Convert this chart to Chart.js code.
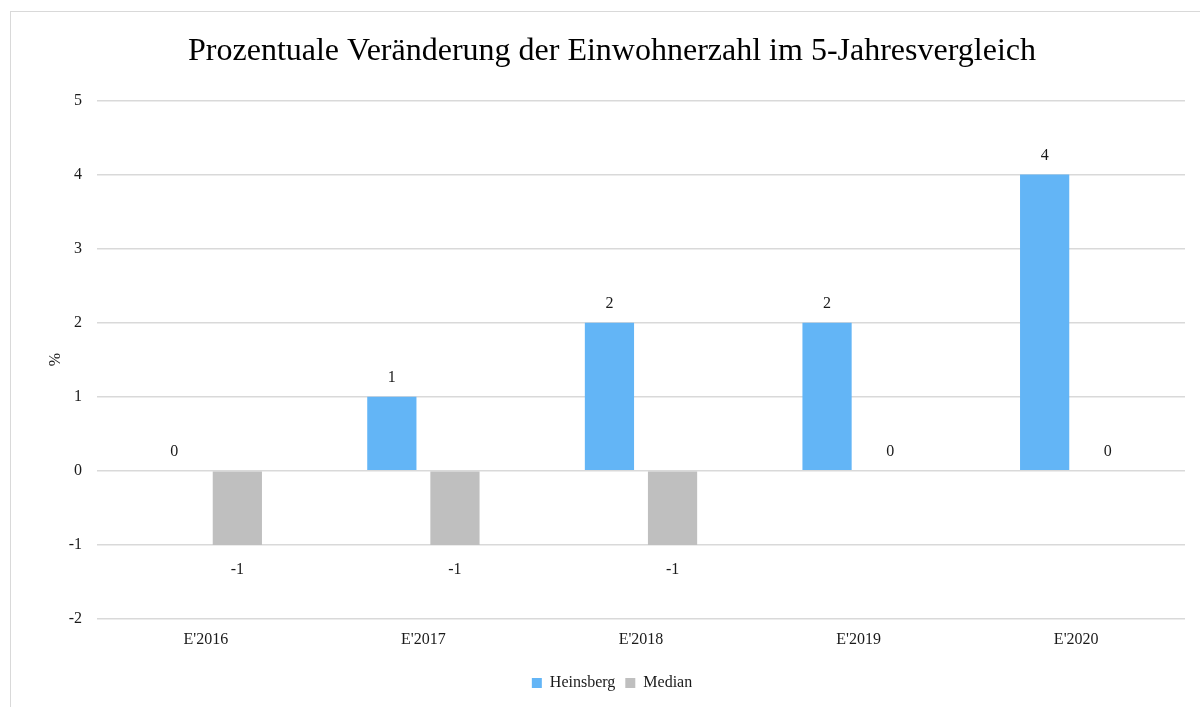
<!DOCTYPE html>
<html lang="de">
<head>
<meta charset="utf-8">
<title>Einwohnerzahl 5-Jahresvergleich</title>
<script src="https://cdn.jsdelivr.net/npm/chart.js@4/dist/chart.umd.min.js"></script>
<style>
    html, body { margin: 0; padding: 0; background: #fff; overflow: hidden; }
    #chart-box {
        position: absolute;
        left: 10px;
        top: 11px;
        width: 1202px;
        height: 700px;
        border: 1px solid #d9d9d9;
    }
</style>
</head>
<body>
<div id="chart-box"><canvas id="population-chart"></canvas></div>
<script>
// Daten
const years = ["E'2016", "E'2017", "E'2018", "E'2019", "E'2020"];
const heinsberg = [0, 1, 2, 2, 4];
const median = [-1, -1, -1, 0, 0];
const yTicks = [-2, -1, 0, 1, 2, 3, 4, 5];

const serif = '"Liberation Serif", "Times New Roman", serif';
const textColor = '#1a1a1a';

// Werte über / unter den Balken schreiben
const valueLabels = {
    id: 'valueLabels',
    afterDatasetsDraw(chart) {
        const ctx = chart.ctx;
        ctx.save();
        ctx.font = '16px ' + serif;
        ctx.fillStyle = textColor;
        ctx.textAlign = 'center';
        ctx.textBaseline = 'middle';
        chart.data.datasets.forEach((ds, i) => {
            chart.getDatasetMeta(i).data.forEach((bar, j) => {
                const v = ds.data[j];
                const y = v >= 0 ? bar.y - 19 : bar.y + 25;
                ctx.fillText(String(v), bar.x, y);
            });
        });
        ctx.restore();
    }
};

const ctx = document.getElementById('population-chart').getContext('2d');
const populationChart = new Chart(ctx, {
    type: 'bar',
    data: {
        labels: years,
        datasets: [{
            label: 'Heinsberg',
            data: heinsberg,
            backgroundColor: '#63b5f6',
            categoryPercentage: 0.58,
            barPercentage: 0.78
        }, {
            label: 'Median',
            data: median,
            backgroundColor: '#bfbfbf',
            categoryPercentage: 0.58,
            barPercentage: 0.78
        }]
    },
    options: {
        responsive: true,
        maintainAspectRatio: false,
        animation: false,
        layout: { padding: { left: 0, right: 0, top: 0, bottom: 11 } },
        plugins: {
            title: {
                display: true,
                text: 'Prozentuale Veränderung der Einwohnerzahl im 5-Jahresvergleich',
                color: '#000',
                font: { family: serif, size: 32, weight: 'normal' },
                padding: { top: 20, bottom: 30 }
            },
            legend: {
                position: 'bottom',
                labels: {
                    color: textColor,
                    font: { family: serif, size: 16 },
                    boxWidth: 10,
                    boxHeight: 10,
                    padding: 10
                }
            },
            tooltip: { enabled: false }
        },
        scales: {
            x: {
                grid: { display: false, drawTicks: false },
                border: { display: false },
                ticks: {
                    color: textColor,
                    font: { family: serif, size: 16 },
                    padding: 11
                },
                afterFit(scale) { scale.height = 46; }
            },
            y: {
                min: -2,
                max: 5,
                afterBuildTicks(scale) {
                    scale.ticks = yTicks.map(v => ({ value: v }));
                },
                grid: { color: '#d9d9d9', lineWidth: 1.5, drawTicks: false },
                border: { display: false },
                ticks: {
                    color: textColor,
                    font: { family: serif, size: 16 },
                    padding: 15
                },
                title: {
                    display: true,
                    text: '%',
                    color: textColor,
                    font: { family: serif, size: 16 },
                    padding: { top: 35 }
                },
                afterFit(scale) { scale.width = 86; }
            },
            // leerer Rand rechts neben der Zeichenfläche
            yRight: {
                position: 'right',
                grid: { display: false, drawTicks: false },
                border: { display: false },
                ticks: { display: false },
                afterFit(scale) { scale.width = 28; }
            }
        }
    },
    plugins: [valueLabels]
});
</script>
</body>
</html>
